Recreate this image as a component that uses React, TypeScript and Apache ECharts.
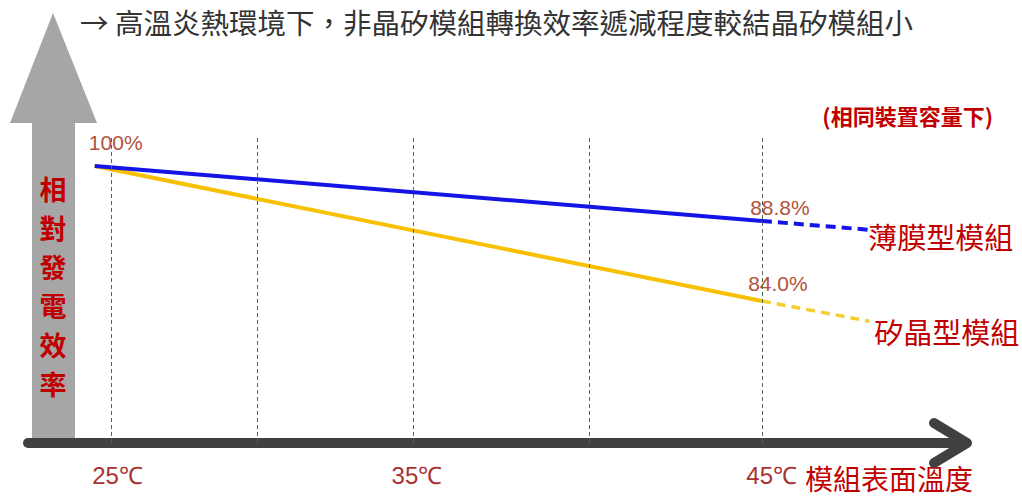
import React, { useEffect, useRef } from "react";
import * as echarts from "echarts";

// ---- data ----
const tempPoints = [24.5, 45, 48.3]; // °C positions of line vertices
const thinFilm = [100, 88.8, 87.0]; // 薄膜型模組 relative efficiency (%)
const crystalline = [100, 84.0, 81.6]; // 矽晶型模組 relative efficiency (%)
const guideTemps = [25, 29.5, 34.3, 39.7, 45];
const tickTemps = [25.2, 34.4, 45.3];
const tickLabels = ["25℃", "35℃", "45℃"];
const seriesNames = ["薄膜型模組", "矽晶型模組"];
const titleText = "→ 高溫炎熱環境下，非晶矽模組轉換效率遞減程度較結晶矽模組小";
const noteText = "(相同裝置容量下)";
const yAxisName = ["相", "對", "發", "電", "效", "率"];
const xAxisName = "模組表面溫度";

const CJK = '"Noto Sans CJK TC", "Noto Sans CJK SC", sans-serif';
const RED = "#c00000";
const BROWN = "#b5513a";

export default function App() {
  const ref = useRef<HTMLDivElement>(null);
  useEffect(() => {
    if (!ref.current) return;
    const chart = echarts.init(ref.current, undefined, { renderer: "svg" });

    const pct = (v: number) => (v === 100 ? "100%" : v.toFixed(1) + "%");
    const pts = (vals: number[], from: number, to: number, labels: Record<number, any>) =>
      tempPoints.slice(from, to + 1).map((t, k) => {
        const i = from + k;
        const item: any = { value: [t, vals[i]] };
        if (labels[i]) item.label = { show: true, formatter: pct(vals[i]), ...labels[i] };
        return item;
      });

    const labelStyle = {
      position: "top",
      distance: 5,
      color: BROWN,
      fontSize: 21,
      fontFamily: '"Liberation Sans", Arial, sans-serif',
    };

    const option: any = {
      animation: false,
      grid: { left: 28, right: 57, top: 137, bottom: 56 },
      xAxis: {
        type: "value",
        min: 22.45,
        max: 51.24,
        splitLine: { show: false },
        axisTick: { show: false },
        axisLine: { show: true, lineStyle: { color: "#404040", width: 10 } },
        axisLabel: {
          show: true,
          customValues: tickTemps,
          margin: 20,
          color: "#a83232",
          fontSize: 24,
          fontFamily: '"Liberation Sans", Arial, sans-serif',
          formatter: (v: number) => {
            const i = tickTemps.indexOf(v);
            return i >= 0 ? tickLabels[i] : "";
          },
        },
      },
      yAxis: [
        { type: "value", show: false, min: 43.6, max: 105.9 },
        { type: "value", show: false, min: 67.17, max: 103.44 },
      ],
      series: [
        {
          type: "line",
          name: "guides",
          data: [],
          markLine: {
            silent: true,
            symbol: "none",
            label: { show: false },
            lineStyle: { color: "#4d6a4d", width: 1, type: [4, 3] },
            data: guideTemps.map((t) => ({ xAxis: t })),
          },
          z: 1,
        },
        {
          type: "line",
          name: seriesNames[1],
          yAxisIndex: 1,
          symbol: "circle",
          symbolSize: 0,
          showSymbol: true,
          itemStyle: { color: "#f7c000" },
          lineStyle: { color: "#f7c000", width: 4 },
          data: pts(crystalline, 0, 1, { 1: { ...labelStyle, offset: [16, -2] } }),
          z: 3,
        },
        {
          type: "line",
          name: seriesNames[1] + "-ext",
          yAxisIndex: 1,
          symbol: "none",
          lineStyle: { color: "#f5cf30", width: 3.5, type: [9, 6] },
          data: pts(crystalline, 1, 2, {}),
          endLabel: {
            show: true,
            formatter: seriesNames[1],
            color: RED,
            fontSize: 29,
            fontFamily: CJK,
            offset: [-3, 10],
          },
          z: 3,
        },
        {
          type: "line",
          name: seriesNames[0],
          yAxisIndex: 0,
          symbol: "circle",
          symbolSize: 0,
          showSymbol: true,
          itemStyle: { color: "#1414e6" },
          lineStyle: { color: "#1414e6", width: 4 },
          data: pts(thinFilm, 0, 1, {
            0: { ...labelStyle, offset: [21, -8] },
            1: { ...labelStyle, offset: [18, 2] },
          }),
          z: 4,
        },
        {
          type: "line",
          name: seriesNames[0] + "-ext",
          yAxisIndex: 0,
          symbol: "none",
          lineStyle: { color: "#1414e6", width: 4, type: [10, 6] },
          data: pts(thinFilm, 1, 2, {}),
          endLabel: {
            show: true,
            formatter: seriesNames[0],
            color: RED,
            fontSize: 29,
            fontFamily: CJK,
            offset: [-9, 6],
          },
          z: 4,
        },
      ],
      graphic: [
        {
          type: "polygon",
          z: 0,
          shape: {
            points: [
              [53, 13],
              [97, 123],
              [75, 123],
              [75, 440],
              [32, 440],
              [32, 123],
              [10, 123],
            ],
          },
          style: { fill: "#a6a6a6" },
        },
        {
          type: "polyline",
          z: 10,
          shape: { points: [[934, 423], [967, 443], [934, 463]] },
          style: { stroke: "#404040", lineWidth: 10, fill: "none", lineCap: "round", lineJoin: "round" },
        },
        ...yAxisName.map((ch, i) => ({
          type: "text",
          z: 10,
          x: 53,
          y: 188 + i * 39,
          style: {
            text: ch,
            fill: RED,
            font: `bold 27px ${CJK}`,
            textAlign: "center",
            textVerticalAlign: "middle",
          },
        })),
        {
          type: "text",
          x: 80,
          y: 21,
          style: {
            text: titleText,
            fill: "#333333",
            font: `28.5px ${CJK}`,
            textAlign: "left",
            textVerticalAlign: "middle",
          },
        },
        {
          type: "text",
          x: 993,
          y: 115,
          style: {
            text: noteText,
            fill: RED,
            font: `bold 22px ${CJK}`,
            textAlign: "right",
            textVerticalAlign: "middle",
          },
        },
        {
          type: "text",
          x: 805,
          y: 478,
          style: {
            text: xAxisName,
            fill: RED,
            font: `28px ${CJK}`,
            textAlign: "left",
            textVerticalAlign: "middle",
          },
        },
      ],
    };
    chart.setOption(option);
    return () => chart.dispose();
  }, []);
  return (
    <div
      ref={ref}
      style={{ position: "fixed", left: 0, top: 0, width: 1022, height: 499, background: "#ffffff" }}
    />
  );
}
